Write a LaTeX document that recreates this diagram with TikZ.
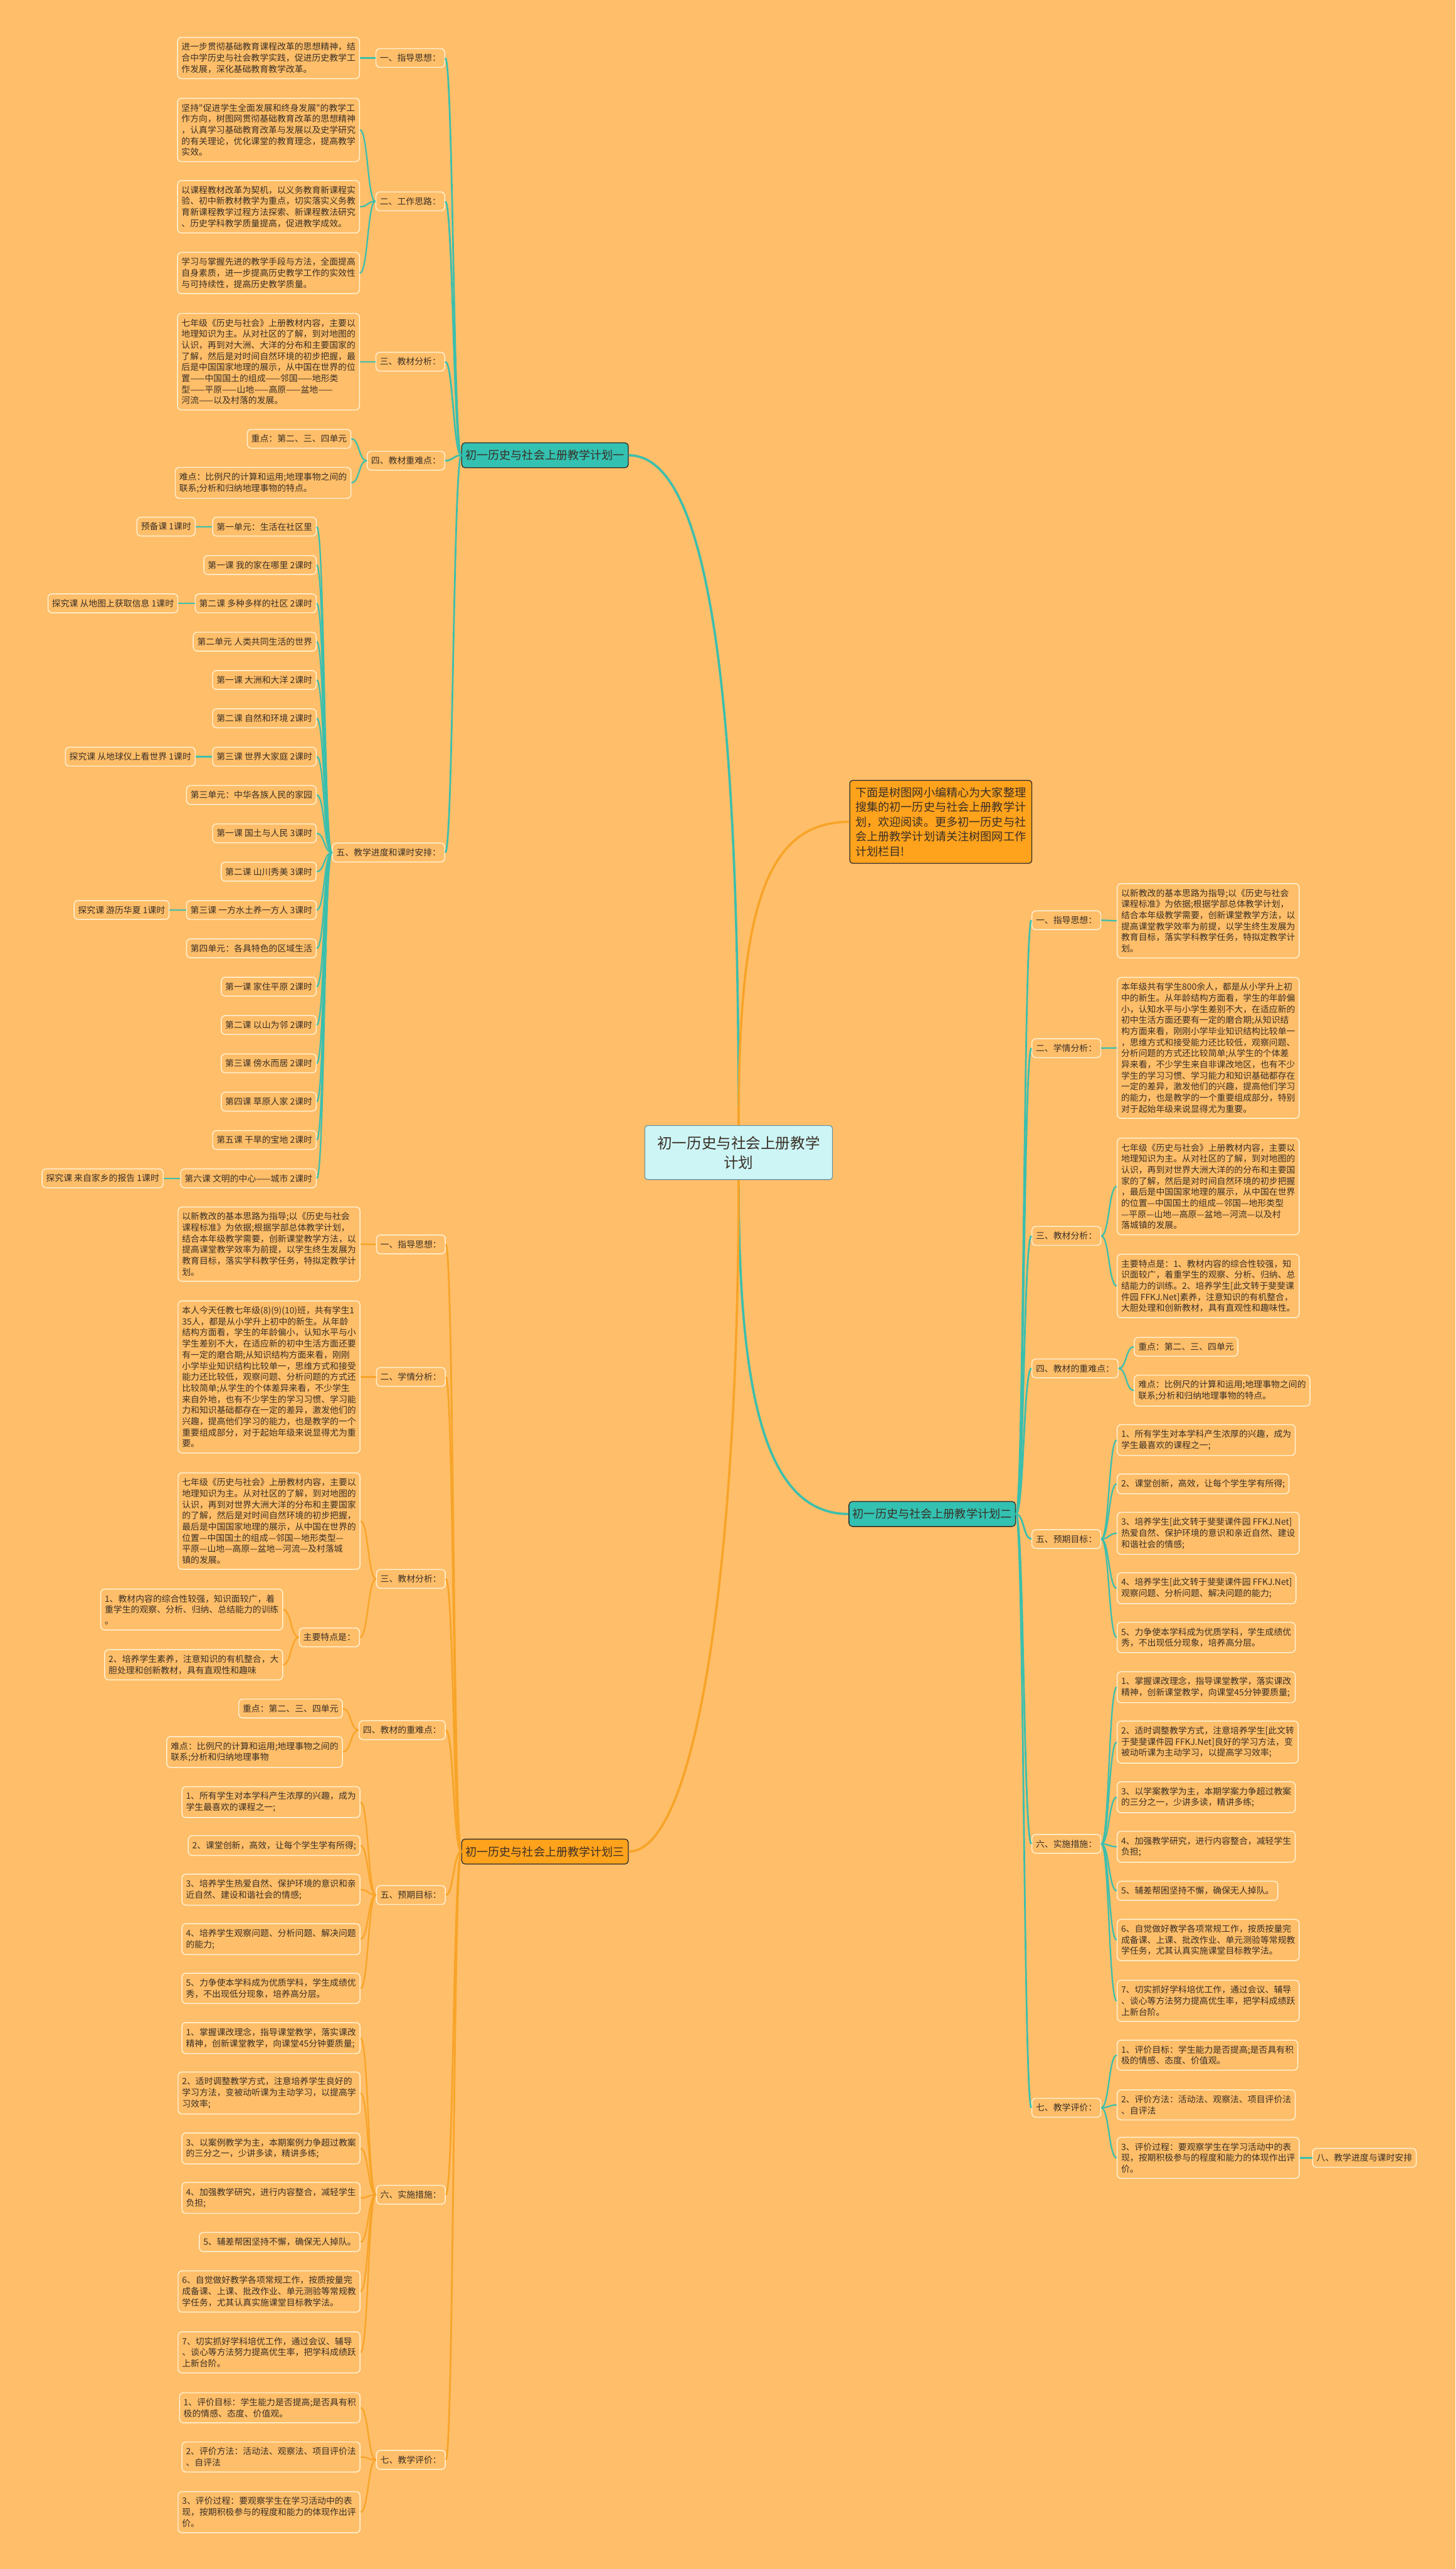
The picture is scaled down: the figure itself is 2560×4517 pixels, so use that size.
\documentclass[tikz,border=0pt]{standalone}
\usepackage{fontspec}
\usepackage{xcolor}
\newfontfamily\cjk{Noto Sans CJK SC}
\usetikzlibrary{positioning}

\definecolor{bgorange}{HTML}{FFBE69}
\definecolor{tealline}{HTML}{3BBFAD}
\definecolor{tealfill}{HTML}{33C1B1}
\definecolor{orangeline}{HTML}{F7A428}
\definecolor{orangefill}{HTML}{FFA21C}
\definecolor{rootfill}{HTML}{CDF5F6}
\definecolor{rootline}{HTML}{5F8FA6}
\definecolor{boxline}{HTML}{FFF2D6}
\definecolor{planline}{HTML}{2B2B2B}
\definecolor{inktext}{HTML}{3A3026}

\newcommand{\leaffont}{\cjk\fontsize{15.3}{19.5}\selectfont}
\newcommand{\planfont}{\cjk\fontsize{20}{24}\selectfont}
\newcommand{\rootfont}{\cjk\fontsize{26}{34}\selectfont}
\newcommand{\introfont}{\cjk\fontsize{20}{25.8}\selectfont}

\begin{document}
\begin{tikzpicture}[x=1pt, y=-1pt,
    box/.style={draw=boxline, line width=1.6, rounded corners=7, align=left, inner xsep=7, inner ysep=9.5, font=\leaffont, text=inktext},
    plan/.style={draw=planline, line width=1.4, rounded corners=6, minimum width=293, minimum height=44, inner sep=0, font=\planfont, text=inktext},
    tlink/.style={draw=tealline, line width=2.5},
    olink/.style={draw=orangeline, line width=2.5},
    tol/.style={to path={.. controls +(-14,0) and +(14,0) .. (\tikztotarget)}},
    tor/.style={to path={.. controls +(14,0) and +(-14,0) .. (\tikztotarget)}}
]

% Background
\useasboundingbox (0,0) rectangle (2560,4517);
\fill[bgorange] (0,0) rectangle (2560,4517);

% Define central nodes
\node[draw=rootline, fill=rootfill, line width=1.2, rounded corners=5, minimum width=330, minimum height=95, align=center, font=\rootfont, text=inktext] (root) at (1299, 2026.5) {初一历史与社会上册教学\\计划};
\node[draw=planline, fill=orangefill, line width=1.4, rounded corners=5, align=left, inner xsep=10, inner ysep=12, font=\introfont, text=inktext] (intro) at (1654.5, 1445) {下面是树图网小编精心为大家整理\\搜集的初一历史与社会上册教学计\\划，欢迎阅读。更多初一历史与社\\会上册教学计划请关注树图网工作\\计划栏目!};
\node[plan, fill=tealfill] (plan1) at (958.5, 800.5) {初一历史与社会上册教学计划一};
\node[plan, fill=tealfill] (plan2) at (1639.5, 2662) {初一历史与社会上册教学计划二};
\node[plan, fill=orangefill] (plan3) at (958.5, 3255.5) {初一历史与社会上册教学计划三};

% Plan one
\node[box, anchor=east] (p1a) at (783, 102) {一、指导思想：};
\node[box, anchor=east] (p1b) at (783, 354) {二、工作思路：};
\node[box, anchor=east] (p1c) at (783, 636) {三、教材分析：};
\node[box, anchor=east] (p1d) at (783, 810) {四、教材重难点：};
\node[box, anchor=east] (p1e) at (783, 1499) {五、教学进度和课时安排：};

\node[box, anchor=east] (p1a1) at (633, 102) {进一步贯彻基础教育课程改革的思想精神，结\\合中学历史与社会教学实践，促进历史教学工\\作发展，深化基础教育教学改革。};
\node[box, anchor=east] (p1b1) at (633, 228.5) {坚持"促进学生全面发展和终身发展"的教学工\\作方向，树图网贯彻基础教育改革的思想精神\\，认真学习基础教育改革与发展以及史学研究\\的有关理论，优化课堂的教育理念，提高教学\\实效。};
\node[box, anchor=east] (p1b2) at (633, 363.5) {以课程教材改革为契机，以义务教育新课程实\\验、初中新教材教学为重点，切实落实义务教\\育新课程教学过程方法探索、新课程教法研究\\、历史学科教学质量提高，促进教学成效。};
\node[box, anchor=east] (p1b3) at (633, 480) {学习与掌握先进的教学手段与方法，全面提高\\自身素质，进一步提高历史教学工作的实效性\\与可持续性，提高历史教学质量。};
\node[box, anchor=east] (p1c1) at (633, 636) {七年级《历史与社会》上册教材内容，主要以\\地理知识为主。从对社区的了解，到对地图的\\认识，再到对大洲、大洋的分布和主要国家的\\了解，然后是对时间自然环境的初步把握，最\\后是中国国家地理的展示，从中国在世界的位\\置——中国国土的组成——邻国——地形类\\型——平原——山地——高原——盆地——\\河流——以及村落的发展。};
\node[box, anchor=east] (p1d1) at (618, 771.5) {重点：第二、三、四单元};
\node[box, anchor=east] (p1d2) at (618, 849) {难点：比例尺的计算和运用;地理事物之间的\\联系;分析和归纳地理事物的特点。};

% Lessons of plan one
\node[box, anchor=east] (u1) at (557, 926) {第一单元：生活在社区里};
\node[box, anchor=east] (u2) at (557, 993.4) {第一课 我的家在哪里 2课时};
\node[box, anchor=east] (u3) at (557, 1060.8) {第二课 多种多样的社区 2课时};
\node[box, anchor=east] (u4) at (557, 1128.2) {第二单元 人类共同生活的世界};
\node[box, anchor=east] (u5) at (557, 1195.6) {第一课 大洲和大洋 2课时};
\node[box, anchor=east] (u6) at (557, 1263) {第二课 自然和环境 2课时};
\node[box, anchor=east] (u7) at (557, 1330.4) {第三课 世界大家庭 2课时};
\node[box, anchor=east] (u8) at (557, 1397.8) {第三单元：中华各族人民的家园};
\node[box, anchor=east] (u9) at (557, 1465.2) {第一课 国土与人民 3课时};
\node[box, anchor=east] (u10) at (557, 1532.6) {第二课 山川秀美 3课时};
\node[box, anchor=east] (u11) at (557, 1600) {第三课 一方水土养一方人 3课时};
\node[box, anchor=east] (u12) at (557, 1667.4) {第四单元：各具特色的区域生活};
\node[box, anchor=east] (u13) at (557, 1734.8) {第一课 家住平原 2课时};
\node[box, anchor=east] (u14) at (557, 1802.2) {第二课 以山为邻 2课时};
\node[box, anchor=east] (u15) at (557, 1869.6) {第三课 傍水而居 2课时};
\node[box, anchor=east] (u16) at (557, 1937) {第四课 草原人家 2课时};
\node[box, anchor=east] (u17) at (557, 2004.4) {第五课 干旱的宝地 2课时};
\node[box, anchor=east] (u18) at (557, 2071.8) {第六课 文明的中心——城市 2课时};
\node[box, left=29pt of u1] (u1s) {预备课 1课时};
\node[box, left=29pt of u3] (u3s) {探究课 从地图上获取信息 1课时};
\node[box, left=29pt of u7] (u7s) {探究课 从地球仪上看世界 1课时};
\node[box, left=29pt of u11] (u11s) {探究课 游历华夏 1课时};
\node[box, left=29pt of u18] (u18s) {探究课 来自家乡的报告 1课时};

% Plan two
\node[box, anchor=west] (p2a) at (1814, 1618) {一、指导思想：};
\node[box, anchor=west] (p2b) at (1814, 1843) {二、学情分析：};
\node[box, anchor=west] (p2c) at (1814, 2173) {三、教材分析：};
\node[box, anchor=west] (p2d) at (1814, 2406) {四、教材的重难点：};
\node[box, anchor=west] (p2e) at (1814, 2706) {五、预期目标：};
\node[box, anchor=west] (p2f) at (1814, 3242) {六、实施措施：};
\node[box, anchor=west] (p2g) at (1814, 3706) {七、教学评价：};

\node[box, anchor=west] (p2a1) at (1964, 1619) {以新教改的基本思路为指导;以《历史与社会\\课程标准》为依据;根据学部总体教学计划，\\结合本年级教学需要，创新课堂教学方法，以\\提高课堂教学效率为前提，以学生终生发展为\\教育目标，落实学科教学任务，特拟定教学计\\划。};
\node[box, anchor=west] (p2b1) at (1964, 1842.5) {本年级共有学生800余人，都是从小学升上初\\中的新生。从年龄结构方面看，学生的年龄偏\\小，认知水平与小学生差别不大，在适应新的\\初中生活方面还要有一定的磨合期;从知识结\\构方面来看，刚刚小学毕业知识结构比较单一\\，思维方式和接受能力还比较低，观察问题、\\分析问题的方式还比较简单;从学生的个体差\\异来看，不少学生来自非课改地区，也有不少\\学生的学习习惯、学习能力和知识基础都存在\\一定的差异，激发他们的兴趣，提高他们学习\\的能力，也是教学的一个重要组成部分，特别\\对于起始年级来说显得尤为重要。};
\node[box, anchor=west] (p2c1) at (1964, 2086) {七年级《历史与社会》上册教材内容，主要以\\地理知识为主。从对社区的了解，到对地图的\\认识，再到对世界大洲大洋的的分布和主要国\\家的了解，然后是对时间自然环境的初步把握\\，最后是中国国家地理的展示，从中国在世界\\的位置—中国国土的组成—邻国—地形类型\\—平原—山地—高原—盆地—河流—以及村\\落城镇的发展。};
\node[box, anchor=west] (p2c2) at (1964, 2261) {主要特点是：1、教材内容的综合性较强，知\\识面较广，着重学生的观察、分析、归纳、总\\结能力的训练。2、培养学生[此文转于斐斐课\\件园 FFKJ.Net]素养，注意知识的有机整合，\\大胆处理和创新教材，具有直观性和趣味性。};
\node[box, anchor=west] (p2d1) at (1994, 2368) {重点：第二、三、四单元};
\node[box, anchor=west] (p2d2) at (1994, 2445) {难点：比例尺的计算和运用;地理事物之间的\\联系;分析和归纳地理事物的特点。};
\node[box, anchor=west] (p2e1) at (1964, 2532) {1、所有学生对本学科产生浓厚的兴趣，成为\\学生最喜欢的课程之一;};
\node[box, anchor=west] (p2e2) at (1964, 2609) {2、课堂创新，高效，让每个学生学有所得;};
\node[box, anchor=west] (p2e3) at (1964, 2696) {3、培养学生[此文转于斐斐课件园 FFKJ.Net]\\热爱自然、保护环境的意识和亲近自然、建设\\和谐社会的情感;};
\node[box, anchor=west] (p2e4) at (1964, 2792.5) {4、培养学生[此文转于斐斐课件园 FFKJ.Net]\\观察问题、分析问题、解决问题的能力;};
\node[box, anchor=west] (p2e5) at (1964, 2879) {5、力争使本学科成为优质学科，学生成绩优\\秀，不出现低分现象，培养高分层。};
\node[box, anchor=west] (p2f1) at (1964, 2966.5) {1、掌握课改理念，指导课堂教学，落实课改\\精神，创新课堂教学，向课堂45分钟要质量;};
\node[box, anchor=west] (p2f2) at (1964, 3063) {2、适时调整教学方式，注意培养学生[此文转\\于斐斐课件园 FFKJ.Net]良好的学习方法，变\\被动听课为主动学习，以提高学习效率;};
\node[box, anchor=west] (p2f3) at (1964, 3160) {3、以学案教学为主，本期学案力争超过教案\\的三分之一，少讲多读，精讲多练;};
\node[box, anchor=west] (p2f4) at (1964, 3247) {4、加强教学研究，进行内容整合，减轻学生\\负担;};
\node[box, anchor=west] (p2f5) at (1964, 3324.5) {5、辅差帮困坚持不懈，确保无人掉队。};
\node[box, anchor=west] (p2f6) at (1964, 3411) {6、自觉做好教学各项常规工作，按质按量完\\成备课、上课、批改作业、单元测验等常规教\\学任务，尤其认真实施课堂目标教学法。};
\node[box, anchor=west] (p2f7) at (1964, 3518) {7、切实抓好学科培优工作，通过会议、辅导\\、谈心等方法努力提高优生率，把学科成绩跃\\上新台阶。};
\node[box, anchor=west] (p2g1) at (1964, 3613.5) {1、评价目标：学生能力是否提高;是否具有积\\极的情感、态度、价值观。};
\node[box, anchor=west] (p2g2) at (1964, 3701) {2、评价方法：活动法、观察法、项目评价法\\、自评法};
\node[box, anchor=west] (p2g3) at (1964, 3794) {3、评价过程：要观察学生在学习活动中的表\\现，按期积极参与的程度和能力的体现作出评\\价。};
\node[box, right=22pt of p2g3] (p2g3a) {八、教学进度与课时安排};

% Plan three
\node[box, anchor=east] (p3a) at (784, 2188) {一、指导思想：};
\node[box, anchor=east] (p3b) at (784, 2421) {二、学情分析：};
\node[box, anchor=east] (p3c) at (784, 2776) {三、教材分析：};
\node[box, anchor=east] (p3d) at (784, 3042) {四、教材的重难点：};
\node[box, anchor=east] (p3e) at (784, 3332) {五、预期目标：};
\node[box, anchor=east] (p3f) at (784, 3859) {六、实施措施：};
\node[box, anchor=east] (p3g) at (784, 4325) {七、教学评价：};

\node[box, anchor=east] (p3a1) at (634, 2187.5) {以新教改的基本思路为指导;以《历史与社会\\课程标准》为依据;根据学部总体教学计划，\\结合本年级教学需要，创新课堂教学方法，以\\提高课堂教学效率为前提，以学生终生发展为\\教育目标，落实学科教学任务，特拟定教学计\\划。};
\node[box, anchor=east] (p3b1) at (634, 2421) {本人今天任教七年级(8)(9)(10)班，共有学生1\\35人，都是从小学升上初中的新生。从年龄\\结构方面看，学生的年龄偏小，认知水平与小\\学生差别不大，在适应新的初中生活方面还要\\有一定的磨合期;从知识结构方面来看，刚刚\\小学毕业知识结构比较单一，思维方式和接受\\能力还比较低，观察问题、分析问题的方式还\\比较简单;从学生的个体差异来看，不少学生\\来自外地，也有不少学生的学习习惯、学习能\\力和知识基础都存在一定的差异，激发他们的\\兴趣，提高他们学习的能力，也是教学的一个\\重要组成部分，对于起始年级来说显得尤为重\\要。};
\node[box, anchor=east] (p3c1) at (634, 2674.5) {七年级《历史与社会》上册教材内容，主要以\\地理知识为主。从对社区的了解，到对地图的\\认识，再到对世界大洲大洋的分布和主要国家\\的了解，然后是对时间自然环境的初步把握，\\最后是中国国家地理的展示，从中国在世界的\\位置—中国国土的组成—邻国—地形类型—\\平原—山地—高原—盆地—河流—及村落城\\镇的发展。};
\node[box, anchor=east] (p3c2) at (633, 2879) {主要特点是：};
\node[box, anchor=east] (p3c21) at (498, 2830) {1、教材内容的综合性较强，知识面较广，着\\重学生的观察、分析、归纳、总结能力的训练\\。};
\node[box, anchor=east] (p3c22) at (498, 2927) {2、培养学生素养，注意知识的有机整合，大\\胆处理和创新教材，具有直观性和趣味};
\node[box, anchor=east] (p3d1) at (603, 3004) {重点：第二、三、四单元};
\node[box, anchor=east] (p3d2) at (603, 3080.5) {难点：比例尺的计算和运用;地理事物之间的\\联系;分析和归纳地理事物};
\node[box, anchor=east] (p3e1) at (634, 3168.5) {1、所有学生对本学科产生浓厚的兴趣，成为\\学生最喜欢的课程之一;};
\node[box, anchor=east] (p3e2) at (634, 3245) {2、课堂创新，高效，让每个学生学有所得;};
\node[box, anchor=east] (p3e3) at (634, 3322.5) {3、培养学生热爱自然、保护环境的意识和亲\\近自然、建设和谐社会的情感;};
\node[box, anchor=east] (p3e4) at (634, 3409.5) {4、培养学生观察问题、分析问题、解决问题\\的能力;};
\node[box, anchor=east] (p3e5) at (634, 3496) {5、力争使本学科成为优质学科，学生成绩优\\秀，不出现低分现象，培养高分层。};
\node[box, anchor=east] (p3f1) at (634, 3583.5) {1、掌握课改理念，指导课堂教学，落实课改\\精神，创新课堂教学，向课堂45分钟要质量;};
\node[box, anchor=east] (p3f2) at (634, 3680) {2、适时调整教学方式，注意培养学生良好的\\学习方法，变被动听课为主动学习，以提高学\\习效率;};
\node[box, anchor=east] (p3f3) at (634, 3777.5) {3、以案例教学为主，本期案例力争超过教案\\的三分之一，少讲多读，精讲多练;};
\node[box, anchor=east] (p3f4) at (634, 3864.5) {4、加强教学研究，进行内容整合，减轻学生\\负担;};
\node[box, anchor=east] (p3f5) at (634, 3942) {5、辅差帮困坚持不懈，确保无人掉队。};
\node[box, anchor=east] (p3f6) at (634, 4029) {6、自觉做好教学各项常规工作，按质按量完\\成备课、上课、批改作业、单元测验等常规教\\学任务，尤其认真实施课堂目标教学法。};
\node[box, anchor=east] (p3f7) at (634, 4136) {7、切实抓好学科培优工作，通过会议、辅导\\、谈心等方法努力提高优生率，把学科成绩跃\\上新台阶。};
\node[box, anchor=east] (p3g1) at (634, 4233.5) {1、评价目标：学生能力是否提高;是否具有积\\极的情感、态度、价值观。};
\node[box, anchor=east] (p3g2) at (634, 4320) {2、评价方法：活动法、观察法、项目评价法\\、自评法};
\node[box, anchor=east] (p3g3) at (634, 4417) {3、评价过程：要观察学生在学习活动中的表\\现，按期积极参与的程度和能力的体现作出评\\价。};

% Define edges from the root
\draw[tlink, line width=4] (root.north) .. controls (1299, 1300) and (1260, 800.5) .. (plan1.east);
\draw[olink, line width=4] (root.north) .. controls (1299, 1600) and (1345, 1445) .. (intro.west);
\draw[tlink, line width=4] (root.south) .. controls (1299, 2450) and (1345, 2662) .. (plan2.west);
\draw[olink, line width=4] (root.south) .. controls (1299, 2750) and (1225, 3255.5) .. (plan3.east);

% Edges of plan one
\draw[tlink, line width=3] (plan1.west) to[tol] (p1a.east);
\draw[tlink, line width=3] (plan1.west) to[tol] (p1b.east);
\draw[tlink, line width=3] (plan1.west) to[tol] (p1c.east);
\draw[tlink, line width=3] (plan1.west) to[tol] (p1d.east);
\draw[tlink, line width=3] (plan1.west) to[tol] (p1e.east);
\draw[tlink] (p1a.west) to[tol] (p1a1.east);
\draw[tlink] (p1b.west) to[tol] (p1b1.east);
\draw[tlink] (p1b.west) to[tol] (p1b2.east);
\draw[tlink] (p1b.west) to[tol] (p1b3.east);
\draw[tlink] (p1c.west) to[tol] (p1c1.east);
\draw[tlink] (p1d.west) to[tol] (p1d1.east);
\draw[tlink] (p1d.west) to[tol] (p1d2.east);
\draw[tlink] (p1e.west) to[tol] (u1.east);
\draw[tlink] (p1e.west) to[tol] (u2.east);
\draw[tlink] (p1e.west) to[tol] (u3.east);
\draw[tlink] (p1e.west) to[tol] (u4.east);
\draw[tlink] (p1e.west) to[tol] (u5.east);
\draw[tlink] (p1e.west) to[tol] (u6.east);
\draw[tlink] (p1e.west) to[tol] (u7.east);
\draw[tlink] (p1e.west) to[tol] (u8.east);
\draw[tlink] (p1e.west) to[tol] (u9.east);
\draw[tlink] (p1e.west) to[tol] (u10.east);
\draw[tlink] (p1e.west) to[tol] (u11.east);
\draw[tlink] (p1e.west) to[tol] (u12.east);
\draw[tlink] (p1e.west) to[tol] (u13.east);
\draw[tlink] (p1e.west) to[tol] (u14.east);
\draw[tlink] (p1e.west) to[tol] (u15.east);
\draw[tlink] (p1e.west) to[tol] (u16.east);
\draw[tlink] (p1e.west) to[tol] (u17.east);
\draw[tlink] (p1e.west) to[tol] (u18.east);
\draw[tlink] (u1.west) -- (u1s.east);
\draw[tlink] (u3.west) -- (u3s.east);
\draw[tlink] (u7.west) -- (u7s.east);
\draw[tlink] (u11.west) -- (u11s.east);
\draw[tlink] (u18.west) -- (u18s.east);

% Edges of plan two
\draw[tlink, line width=3] (plan2.east) to[tor] (p2a.west);
\draw[tlink, line width=3] (plan2.east) to[tor] (p2b.west);
\draw[tlink, line width=3] (plan2.east) to[tor] (p2c.west);
\draw[tlink, line width=3] (plan2.east) to[tor] (p2d.west);
\draw[tlink, line width=3] (plan2.east) to[tor] (p2e.west);
\draw[tlink, line width=3] (plan2.east) to[tor] (p2f.west);
\draw[tlink, line width=3] (plan2.east) to[tor] (p2g.west);
\draw[tlink] (p2a.east) to[tor] (p2a1.west);
\draw[tlink] (p2b.east) to[tor] (p2b1.west);
\draw[tlink] (p2c.east) to[tor] (p2c1.west);
\draw[tlink] (p2c.east) to[tor] (p2c2.west);
\draw[tlink] (p2d.east) to[tor] (p2d1.west);
\draw[tlink] (p2d.east) to[tor] (p2d2.west);
\draw[tlink] (p2e.east) to[tor] (p2e1.west);
\draw[tlink] (p2e.east) to[tor] (p2e2.west);
\draw[tlink] (p2e.east) to[tor] (p2e3.west);
\draw[tlink] (p2e.east) to[tor] (p2e4.west);
\draw[tlink] (p2e.east) to[tor] (p2e5.west);
\draw[tlink] (p2f.east) to[tor] (p2f1.west);
\draw[tlink] (p2f.east) to[tor] (p2f2.west);
\draw[tlink] (p2f.east) to[tor] (p2f3.west);
\draw[tlink] (p2f.east) to[tor] (p2f4.west);
\draw[tlink] (p2f.east) to[tor] (p2f5.west);
\draw[tlink] (p2f.east) to[tor] (p2f6.west);
\draw[tlink] (p2f.east) to[tor] (p2f7.west);
\draw[tlink] (p2g.east) to[tor] (p2g1.west);
\draw[tlink] (p2g.east) to[tor] (p2g2.west);
\draw[tlink] (p2g.east) to[tor] (p2g3.west);
\draw[tlink] (p2g3.east) -- (p2g3a.west);

% Edges of plan three
\draw[olink, line width=3] (plan3.west) to[tol] (p3a.east);
\draw[olink, line width=3] (plan3.west) to[tol] (p3b.east);
\draw[olink, line width=3] (plan3.west) to[tol] (p3c.east);
\draw[olink, line width=3] (plan3.west) to[tol] (p3d.east);
\draw[olink, line width=3] (plan3.west) to[tol] (p3e.east);
\draw[olink, line width=3] (plan3.west) to[tol] (p3f.east);
\draw[olink, line width=3] (plan3.west) to[tol] (p3g.east);
\draw[olink] (p3a.west) to[tol] (p3a1.east);
\draw[olink] (p3b.west) to[tol] (p3b1.east);
\draw[olink] (p3c.west) to[tol] (p3c1.east);
\draw[olink] (p3c.west) to[tol] (p3c2.east);
\draw[olink] (p3c2.west) to[tol] (p3c21.east);
\draw[olink] (p3c2.west) to[tol] (p3c22.east);
\draw[olink] (p3d.west) to[tol] (p3d1.east);
\draw[olink] (p3d.west) to[tol] (p3d2.east);
\draw[olink] (p3e.west) to[tol] (p3e1.east);
\draw[olink] (p3e.west) to[tol] (p3e2.east);
\draw[olink] (p3e.west) to[tol] (p3e3.east);
\draw[olink] (p3e.west) to[tol] (p3e4.east);
\draw[olink] (p3e.west) to[tol] (p3e5.east);
\draw[olink] (p3f.west) to[tol] (p3f1.east);
\draw[olink] (p3f.west) to[tol] (p3f2.east);
\draw[olink] (p3f.west) to[tol] (p3f3.east);
\draw[olink] (p3f.west) to[tol] (p3f4.east);
\draw[olink] (p3f.west) to[tol] (p3f5.east);
\draw[olink] (p3f.west) to[tol] (p3f6.east);
\draw[olink] (p3f.west) to[tol] (p3f7.east);
\draw[olink] (p3g.west) to[tol] (p3g1.east);
\draw[olink] (p3g.west) to[tol] (p3g2.east);
\draw[olink] (p3g.west) to[tol] (p3g3.east);

\end{tikzpicture}
\end{document}
